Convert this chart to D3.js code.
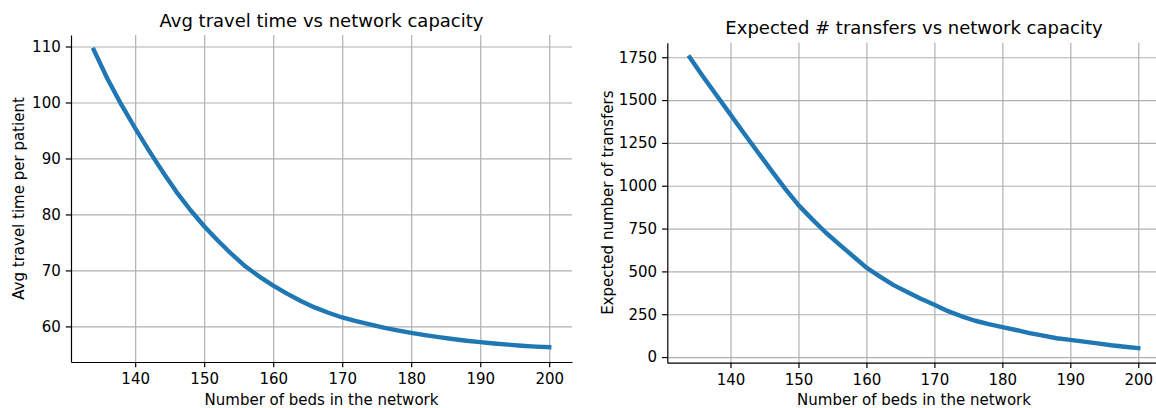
<!DOCTYPE html>
<html>
<head>
<meta charset="utf-8">
<script src="https://cdn.jsdelivr.net/npm/d3@7"></script>
<style>
  body { margin: 0; background: #fff; }
  svg { display: block; font-family: "DejaVu Sans", sans-serif; }
</style>
</head>
<body>
<script>
'use strict';

// number of beds in the network
var beds = [134, 136, 138, 140, 142, 144, 146, 148, 150, 152, 154, 156, 158, 160, 162, 164, 166,
  168, 170, 172, 174, 176, 178, 180, 182, 184, 186, 188, 190, 192, 194, 196, 198, 200];

// avg travel time per patient
var travelTime = [109.4, 104.2, 99.6, 95.4, 91.4, 87.6, 84.0, 80.8, 77.9, 75.3, 72.9, 70.7, 68.9,
  67.3, 65.85, 64.55, 63.4, 62.45, 61.6, 60.95, 60.35, 59.8, 59.3, 58.85, 58.45, 58.1, 57.75, 57.45,
  57.2, 56.95, 56.75, 56.55, 56.4, 56.3];

// expected number of transfers
var transfers = [1750, 1635, 1525, 1415, 1305, 1197, 1090, 985, 887, 805, 727, 658, 590, 522, 470,
  420, 380, 340, 305, 268, 238, 212, 192, 175, 158, 140, 125, 110, 100, 90, 80, 69, 60, 52];

var xTicks = [140, 150, 160, 170, 180, 190, 200];
var travelTicks = [60, 70, 80, 90, 100, 110];
var transferTicks = [0, 250, 500, 750, 1000, 1250, 1500, 1750];

var width = 1156, height = 408;

var svg = d3.select('body').append('svg')
  .attr('width', width)
  .attr('height', height);

drawPanel({
  left: 71, right: 572, top: 35, bottom: 362,
  values: travelTime, yTicks: travelTicks,
  title: 'Avg travel time vs network capacity', titleY: 27,
  ylabel: 'Avg travel time per patient', ylabelX: 24
});

drawPanel({
  left: 667.3, right: 1160.7, top: 42.7, bottom: 362.7,
  values: transfers, yTicks: transferTicks,
  title: 'Expected # transfers vs network capacity', titleY: 33.5,
  ylabel: 'Expected number of transfers', ylabelX: 613
});

// matplotlib-like 5% margins around the data
function padded(ext) {
  var m = (ext[1] - ext[0]) * 0.05;
  return [ext[0] - m, ext[1] + m];
}

function drawPanel(p) {
  var w = p.right - p.left,
    h = p.bottom - p.top;

  var x = d3.scaleLinear().domain(padded(d3.extent(beds))).range([0, w]);
  var y = d3.scaleLinear().domain(padded(d3.extent(p.values))).range([h, 0]);

  var g = svg.append('g').attr('transform', 'translate(' + p.left + ',' + p.top + ')');

  // grid
  var grid = g.append('g').attr('class', 'grid');
  grid.append('g')
    .attr('transform', 'translate(0,' + h + ')')
    .call(d3.axisBottom(x).tickValues(xTicks).tickSize(-h).tickFormat(''));
  grid.append('g')
    .call(d3.axisLeft(y).tickValues(p.yTicks).tickSize(-w).tickFormat(''));
  grid.selectAll('.domain').remove();
  grid.selectAll('line').attr('stroke', '#b0b0b0').attr('stroke-width', 1.2);

  // the curve
  var line = d3.line()
    .x(function (d, i) { return x(beds[i]); })
    .y(function (d) { return y(d); });

  g.append('path')
    .datum(p.values)
    .attr('d', line)
    .attr('fill', 'none')
    .attr('stroke', '#1f77b4')
    .attr('stroke-width', 4.4)
    .attr('stroke-linecap', 'square')
    .attr('stroke-linejoin', 'round');

  // axes
  var xAxis = g.append('g')
    .attr('transform', 'translate(0,' + h + ')')
    .call(d3.axisBottom(x).tickValues(xTicks).tickSize(5.25).tickPadding(6).tickSizeOuter(0));
  var yAxis = g.append('g')
    .call(d3.axisLeft(y).tickValues(p.yTicks).tickFormat(d3.format('d'))
      .tickSize(5.25).tickPadding(5).tickSizeOuter(0));

  [xAxis, yAxis].forEach(function (a) {
    a.attr('font-family', 'DejaVu Sans').attr('font-size', 15);
    a.selectAll('text').attr('fill', '#000');
    a.selectAll('line').attr('stroke', '#000').attr('stroke-width', 1.2);
    a.select('.domain').attr('stroke', '#000').attr('stroke-width', 1.2);
  });

  // titles and labels
  svg.append('text')
    .attr('x', p.left + w / 2)
    .attr('y', p.titleY)
    .attr('text-anchor', 'middle')
    .attr('font-size', 18)
    .text(p.title);

  svg.append('text')
    .attr('x', p.left + w / 2)
    .attr('y', 405)
    .attr('text-anchor', 'middle')
    .attr('font-size', 15)
    .text('Number of beds in the network');

  svg.append('text')
    .attr('transform', 'translate(' + p.ylabelX + ',' + (p.top + h / 2) + ') rotate(-90)')
    .attr('text-anchor', 'middle')
    .attr('font-size', 15)
    .text(p.ylabel);
}
</script>
</body>
</html>
